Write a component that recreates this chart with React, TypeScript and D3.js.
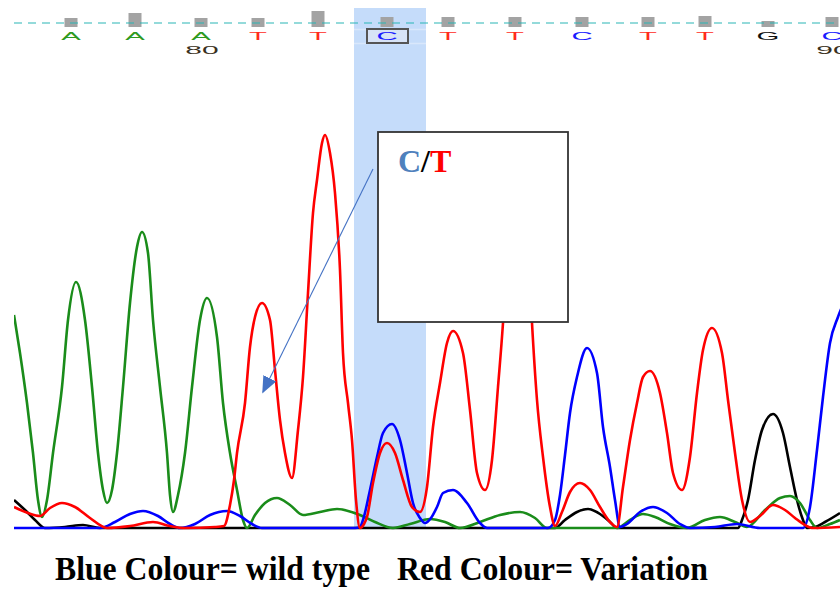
import React from 'react';
import * as d3 from 'd3';

// ---- Sequence row ----
const bases = ['A', 'A', 'A', 'T', 'T', 'C', 'T', 'T', 'C', 'T', 'T', 'G', 'C'];
const baseScans = [57, 121, 187, 244, 304, 373, 434, 501, 568, 634, 691, 754, 818];
const baseQuality = [18, 28, 18, 18, 32, 20, 20, 20, 20, 20, 22, 12, 20];
const firstBaseNumber = 78;
const tickNumbers = [80, 90];
const variantIndex = 5;
const highlightScans = [340, 412];

// ---- Traces: [scan, intensity] ----
const traceA: [number, number][] = [
  [0, 213], [6, 175], [13, 125], [19, 75], [24, 28], [28, 11], [33, 28], [39, 75], [48, 141], [54, 208],
  [62, 246], [71, 208], [78, 141], [84, 75], [89, 38], [93, 25], [98, 38], [103, 75], [109, 141], [116, 225],
  [123, 281], [128, 296], [134, 275], [139, 208], [146, 141], [153, 75], [156, 33], [159, 16], [164, 33], [171, 75],
  [178, 141], [186, 208], [193, 230], [203, 191], [209, 125], [216, 75], [223, 38], [229, 8], [233, 0], [241, 13],
  [251, 25], [263, 30], [276, 23], [289, 13], [306, 16], [323, 19], [346, 13], [361, 6], [379, 0], [396, 4],
  [416, 9], [431, 6], [446, 0], [466, 6], [486, 13], [506, 16], [521, 10], [533, 0], [586, 0], [603, 0],
  [616, 8], [629, 14], [641, 11], [656, 4], [673, 0], [691, 8], [706, 11], [721, 6], [733, 1], [751, 18],
  [766, 30], [776, 32], [786, 25], [796, 8], [803, 0], [816, 4], [826, 8],
];

const traceT: [number, number][] = [
  [0, 21], [14, 15], [26, 12], [36, 20], [48, 25], [61, 21], [76, 10], [93, 0], [116, 2], [139, 6],
  [156, 2], [171, 0], [201, 1], [210, 2], [216, 23], [220, 48], [223, 75], [231, 125], [236, 181], [241, 211],
  [248, 225], [256, 208], [261, 158], [266, 108], [271, 75], [278, 50], [284, 98], [289, 151], [294, 235], [299, 315],
  [303, 348], [308, 385], [311, 393], [316, 375], [321, 335], [326, 258], [329, 175], [334, 125], [338, 88], [342, 28],
  [346, 0], [350, 4], [353, 11], [359, 45], [366, 75], [373, 85], [381, 75], [389, 48], [398, 21], [406, 16],
  [413, 41], [419, 101], [426, 145], [433, 185], [439, 197], [449, 175], [456, 118], [463, 55], [471, 38], [478, 68],
  [484, 141], [489, 205], [496, 328], [504, 368], [512, 328], [518, 205], [523, 128], [529, 71], [536, 21], [541, 2],
  [548, 16], [556, 36], [566, 45], [576, 38], [586, 21], [596, 6], [603, 1], [609, 41], [616, 88], [623, 125],
  [629, 151], [636, 157], [646, 135], [653, 95], [659, 55], [668, 38], [676, 71], [683, 135], [689, 178], [698, 200],
  [708, 175], [714, 128], [721, 75], [728, 28], [736, 6], [746, 12], [759, 23], [771, 18], [781, 10], [791, 3],
  [799, 0], [826, 1],
];

const traceC: [number, number][] = [
  [0, 0], [86, 0], [101, 6], [116, 14], [129, 17], [144, 12], [156, 4], [166, 0], [181, 4], [196, 13],
  [213, 17], [226, 12], [238, 4], [248, 0], [341, 0], [346, 1], [349, 8], [356, 38], [363, 71], [369, 95],
  [378, 104], [386, 88], [393, 55], [399, 25], [406, 10], [411, 5], [417, 10], [423, 21], [429, 35], [439, 38],
  [453, 25], [466, 5], [473, 0], [534, 0], [541, 8], [546, 33], [551, 73], [556, 115], [563, 151], [573, 180],
  [583, 155], [589, 101], [596, 61], [601, 28], [606, 1], [613, 4], [626, 16], [639, 21], [653, 15], [666, 4],
  [676, 0], [701, 1], [723, 4], [746, 0], [789, 0], [796, 21], [803, 78], [809, 131], [816, 185], [824, 211],
  [831, 228],
];

const traceG: [number, number][] = [
  [0, 28], [11, 18], [21, 8], [31, 0], [51, 1], [69, 3], [86, 0], [541, 0], [551, 8], [563, 16],
  [574, 19], [586, 14], [596, 6], [603, 0], [724, 0], [728, 8], [734, 28], [741, 68], [748, 98], [759, 114],
  [769, 95], [776, 61], [783, 28], [789, 8], [793, 0], [801, 1], [811, 6], [826, 15],
];

const traces = [
  { name: 'G', data: traceG, color: '#000000' },
  { name: 'A', data: traceA, color: '#1a8c1a' },
  { name: 'C', data: traceC, color: '#0000ff' },
  { name: 'T', data: traceT, color: '#ff0000' },
];

const baseColors: Record<string, string> = { A: '#2e9a1e', T: '#ff2a1a', C: '#1a1aff', G: '#111111' };

export default function App() {
  const W = 840, H = 590;
  const x = d3.scaleLinear().domain([0, 826]).range([14, 840]);
  const y = d3.scaleLinear().domain([0, 400]).range([528, 128]);
  const q = d3.scaleLinear().domain([0, 40]).range([0, 20]);
  const line = d3.line<[number, number]>()
    .x(d => x(d[0]))
    .y(d => y(d[1]))
    .curve(d3.curveMonotoneX);

  const hx0 = x(highlightScans[0]);
  const hx1 = x(highlightScans[1]);

  // arrow
  const ax0 = 373, ay0 = 169, ax1 = 259, ay1 = 400;

  return (
    <svg width={W} height={H} style={{ position: 'absolute', left: 0, top: 0, background: '#fff' }}
      xmlns="http://www.w3.org/2000/svg">
      <defs>
        <clipPath id="plotclip">
          <rect x={14} y={0} width={826} height={530} />
        </clipPath>
        <marker id="arrowHead" viewBox="0 0 10 10" refX="9" refY="5" markerWidth="17" markerHeight="17"
          markerUnits="userSpaceOnUse" orient="auto">
          <path d="M0,0.8 L10,5 L0,9.2 z" fill="#4472c4" />
        </marker>
      </defs>
      <rect x={0} y={0} width={W} height={H} fill="#fff" />
      {/* highlight band */}
      <rect x={hx0} y={8} width={hx1 - hx0} height={520} fill="#c5dcfa" />
      <line x1={hx0} x2={hx1} y1={29.5} y2={29.5} stroke="#d9e7fb" strokeWidth={1.5} />
      <line x1={hx0} x2={hx1} y1={43.5} y2={43.5} stroke="#d9e7fb" strokeWidth={1.5} />

      {/* quality bars */}
      {bases.map((b, i) => (
        <rect key={'q' + i} x={x(baseScans[i]) - 6.5} y={27 - q(baseQuality[i])} width={13}
          height={q(baseQuality[i])} fill="#a3a3a3" />
      ))}
      {/* dashed line */}
      <line x1={14} x2={840} y1={23} y2={23} stroke="#2bb5b5" strokeWidth={1.2} strokeDasharray="8,6" />

      {/* variant box */}
      <rect x={x(baseScans[variantIndex]) - 20} y={29} width={41} height={14} fill="#d7e3f6"
        stroke="#555" strokeWidth={2} />

      {/* base letters */}
      {bases.map((b, i) => (
        <text key={'b' + i} transform={`translate(${x(baseScans[i])},39.5) scale(2.8,1)`}
          textAnchor="middle" fontFamily="Liberation Sans, Arial, sans-serif" fontSize={10.5}
          fill={baseColors[b]}>{b}</text>
      ))}
      {/* base numbers */}
      {tickNumbers.map(n => {
        const i = n - firstBaseNumber;
        return (
          <text key={'n' + n} transform={`translate(${x(baseScans[i]) + 1},54) scale(3,1)`}
            textAnchor="middle" fontFamily="Liberation Sans, Arial, sans-serif" fontSize={10}
            fill="#3a3020">{n}</text>
        );
      })}

      {/* traces */}
      <g clipPath="url(#plotclip)">
        {traces.map(t => (
          <path key={t.name} d={line(t.data) || ''} fill="none" stroke={t.color}
            strokeWidth={2.6} strokeLinejoin="miter" />
        ))}
      </g>

      {/* annotation box */}
      <rect x={378} y={132} width={190} height={190} fill="#fff" stroke="#333" strokeWidth={1.8} />
      <text x={398} y={172} fontFamily="Liberation Serif, Times New Roman, serif" fontWeight="bold" fontSize={32}>
        <tspan fill="#4f81bd">C</tspan>
        <tspan fill="#000">/</tspan>
        <tspan fill="#ff0000">T</tspan>
      </text>
      <line x1={ax0} y1={ay0} x2={ax1 + 4} y2={ay1 - 8} stroke="#4472c4" strokeWidth={1.1}
        markerEnd="url(#arrowHead)" />

      {/* caption */}
      <text x={55} y={580} fontFamily="Liberation Serif, Times New Roman, serif" fontWeight="bold" fontSize={33}
        textLength={315} lengthAdjust="spacingAndGlyphs" fill="#000">Blue Colour= wild type</text>
      <text x={397} y={580} fontFamily="Liberation Serif, Times New Roman, serif" fontWeight="bold" fontSize={33}
        textLength={311} lengthAdjust="spacingAndGlyphs" fill="#000">Red Colour= Variation</text>
    </svg>
  );
}
